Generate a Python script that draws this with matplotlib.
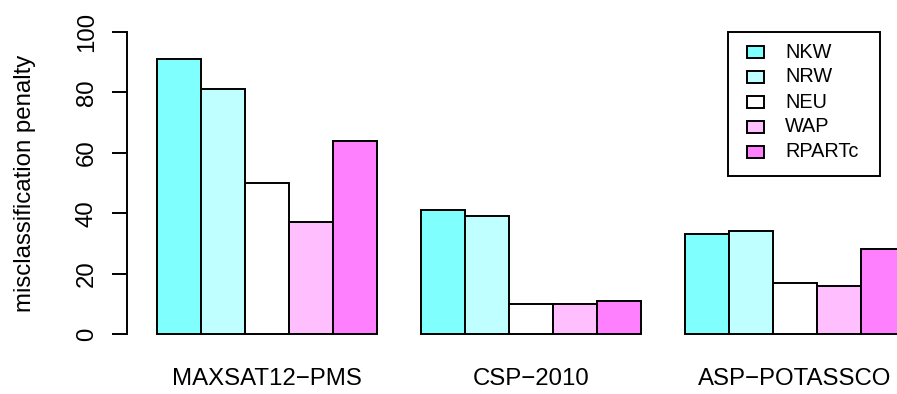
import matplotlib.pyplot as plt
from matplotlib.patches import Rectangle
from matplotlib.transforms import Affine2D

plt.rcParams['font.family'] = ['Liberation Sans', 'DejaVu Sans']

groups = ["MAXSAT12\u2212PMS", "CSP\u22122010", "ASP\u2212POTASSCO"]
methods = ["NKW", "NRW", "NEU", "WAP", "RPARTc"]
colors = ["#80FFFF", "#BFFFFF", "#FFFFFF", "#FFBFFF", "#FF80FF"]

nkw = [91, 41, 33]
nrw = [81, 39, 34]
neu = [50, 10, 17]
wap = [37, 10, 16]
rpartc = [64, 11, 28]
values = [nkw, nrw, neu, wap, rpartc]

W, H = 897, 394
fig = plt.figure(figsize=(W / 100, H / 100), dpi=100)
# pixel coords (y from top) -> figure
px = Affine2D().scale(1 / W, -1 / H).translate(0, 1) + fig.transFigure

# plot region runs past the right edge of the picture (cropped R output)
ax = fig.add_axes([127 / W, 48 / H, 808 / W, 326 / H])

nm = len(methods)
for i, (name, vals, col) in enumerate(zip(methods, values, colors)):
    lefts = [1 + g * (nm + 1) + i for g in range(len(groups))]
    ax.bar(lefts, vals, width=1, align='edge', color=col,
           edgecolor='black', linewidth=1.4, label=name)

ax.set_xlim(0.32, 18.68)
ax.set_ylim(-4, 104)

for s in ['top', 'right', 'bottom']:
    ax.spines[s].set_visible(False)
ax.spines['left'].set_bounds(0, 100)
ax.spines['left'].set_linewidth(1.4)

ax.set_yticks([0, 20, 40, 60, 80, 100])
ax.tick_params(axis='y', length=11, width=1.4, pad=10, labelsize=17.3,
               labelrotation=90)
for lab in ax.get_yticklabels():
    lab.set_va('center')

centers = [1 + g * (nm + 1) + nm / 2 for g in range(len(groups))]
ax.set_xticks(centers)
ax.set_xticklabels(groups)
ax.tick_params(axis='x', length=0, pad=16, labelsize=17.3)

fig.text(25, 183, "misclassification penalty", transform=px,
         rotation=90, ha='center', va='center', fontsize=17.3)

# legend box, drawn like R's legend()
fig.patches.append(Rectangle((728, 32), 152, 144, transform=px, fill=False,
                             edgecolor='black', linewidth=1.4))
for i, (name, col) in enumerate(zip(methods, colors)):
    yc = 52 + 25 * i
    fig.patches.append(Rectangle((747, yc - 6), 17, 12, transform=px,
                                 facecolor=col, edgecolor='black',
                                 linewidth=1.4))
    fig.text(785, yc, name, transform=px, ha='left', va='center',
             fontsize=14.3)

fig.savefig("out.png", dpi=100)
